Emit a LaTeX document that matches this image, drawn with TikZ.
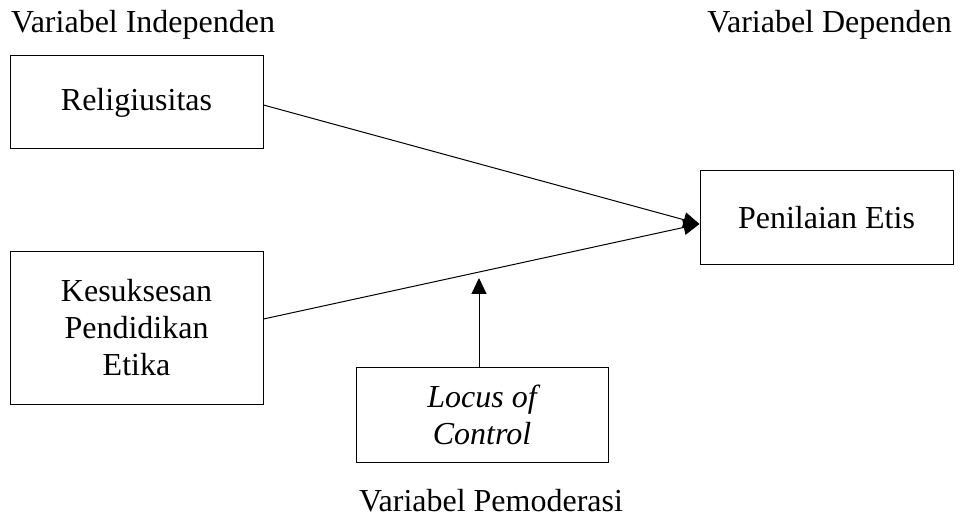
\documentclass[tikz,border=0pt]{standalone}
\usepackage{fontspec}
\setmainfont{Liberation Serif}
\usetikzlibrary{arrows.meta,calc}
\begin{document}
\begin{tikzpicture}[x=1pt,y=-1pt,
  box/.style={draw,line width=1pt,inner sep=0pt,align=center,
    font=\fontsize{32}{37}\selectfont},
  lbl/.style={inner sep=0pt,font=\fontsize{32}{37}\selectfont},
  arr/.style={line width=1pt,-{Triangle[length=16pt,width=15pt]}}]
\path[use as bounding box] (0,0) rectangle (960,518);
\node[box,minimum width=253pt,minimum height=93pt] (rel) at (136.5,102.5) {Religiusitas};
\node[box,minimum width=253pt,minimum height=152pt] (kes) at (136.5,328) {Kesuksesan\\Pendidikan\\Etika};
\node[box,minimum width=253pt,minimum height=94pt] (pen) at (826.5,218) {Penilaian Etis};
\node[box,minimum width=252pt,minimum height=95pt] (loc) at (482,414.5) {\itshape Locus of\\\itshape Control};
\node[lbl,anchor=base west] (vi) at (11,33) {Variabel Independen};
\node[lbl,anchor=base east] (vd) at (952,33) {Variabel Dependen};
\node[lbl,anchor=base] (vp) at (491,511) {Variabel Pemoderasi};
\coordinate (tip) at ($(pen.west)+(0,6)$);
\coordinate (mod) at (479,278);
\draw[arr] ($(rel.east)+(0,2.5)$) -- (tip);
\draw[arr] ($(kes.east)+(0,-9)$) -- (tip);
\draw[arr] (mod |- loc.north) -- (mod);
\end{tikzpicture}
\end{document}
